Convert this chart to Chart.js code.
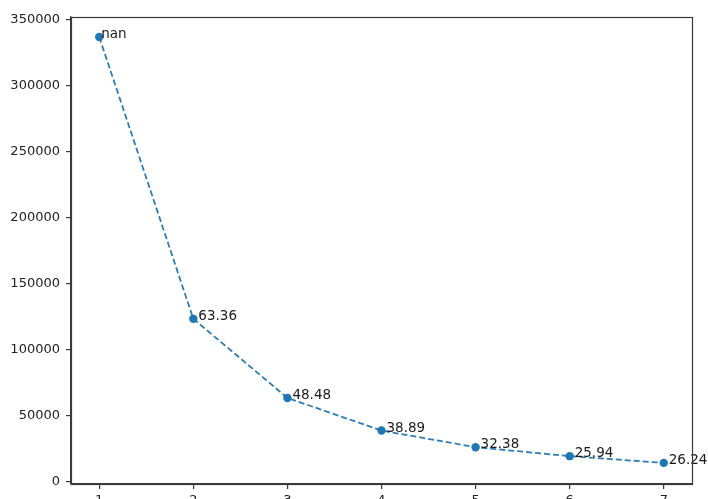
<!DOCTYPE html>
<html>
<head>
<meta charset="utf-8">
<script src="https://cdn.jsdelivr.net/npm/chart.js@4/dist/chart.umd.min.js"></script>
<style>
html,body{margin:0;padding:0;background:#fff;}
#wrap{width:708px;height:499px;position:relative;}
</style>
</head>
<body>
<div id="wrap"><canvas id="c"></canvas></div>
<script>
const xValues = [1, 2, 3, 4, 5, 6, 7];
const yValues = [337000, 123500, 63600, 38900, 26300, 19500, 14400];
const pointLabels = ['nan', '63.36', '48.48', '38.89', '32.38', '25.94', '26.24'];
const xTicks = [1, 2, 3, 4, 5, 6, 7];
const yTicks = [0, 50000, 100000, 150000, 200000, 250000, 300000, 350000];

const FONT = 'DejaVu Sans';
const AX = '#3a3a3a';

const labelPlugin = {
  id: 'pointText',
  afterDatasetsDraw(chart) {
    const ctx = chart.ctx;
    const meta = chart.getDatasetMeta(0);
    ctx.save();
    ctx.font = '13.5px "' + FONT + '"';
    ctx.fillStyle = '#1a1a1a';
    ctx.textAlign = 'left';
    ctx.textBaseline = 'alphabetic';
    meta.data.forEach((pt, i) => {
      const dx = i === 0 ? 2 : 5;
      ctx.fillText(pointLabels[i], pt.x + dx, pt.y + 1);
    });
    ctx.restore();
  }
};

const framePlugin = {
  id: 'frame',
  afterDraw(chart) {
    const a = chart.chartArea;
    const ctx = chart.ctx;
    ctx.save();
    ctx.strokeStyle = AX;
    ctx.lineWidth = 1.2;
    ctx.strokeRect(Math.round(a.left) + 0.5, Math.round(a.top) + 0.5, Math.round(a.right - a.left), Math.round(a.bottom - a.top));
    ctx.restore();
  }
};

new Chart(document.getElementById('c'), {
  type: 'line',
  data: {
    datasets: [{
      data: xValues.map((x, i) => ({x: x, y: yValues[i]})),
      borderColor: '#2f7cb3',
      backgroundColor: '#1f77b4',
      borderWidth: 1.8,
      borderDash: [6, 3],
      pointRadius: 4.2,
      pointBorderWidth: 0,
      pointBackgroundColor: '#1f77b4',
      tension: 0,
      fill: false
    }]
  },
  options: {
    responsive: true,
    maintainAspectRatio: false,
    animation: false,
    devicePixelRatio: 1,
    layout: {padding: {left: 0, right: 16, top: 17, bottom: 0}},
    plugins: {legend: {display: false}, tooltip: {enabled: false}},
    scales: {
      x: {
        type: 'linear',
        min: 0.7,
        max: 7.3,
        afterBuildTicks(scale) { scale.ticks = xTicks.map(v => ({value: v})); },
        afterFit(scale) { scale.height = 15; },
        grid: {drawOnChartArea: false, drawTicks: true, tickLength: 5, color: AX, lineWidth: 1.2},
        border: {display: true, color: AX, width: 1.2},
        ticks: {
          autoSkip: false, maxRotation: 0, padding: 4,
          color: '#222', font: {family: FONT, size: 13},
          callback: v => String(v)
        }
      },
      y: {
        type: 'linear',
        min: -1575,
        max: 352075,
        afterBuildTicks(scale) { scale.ticks = yTicks.map(v => ({value: v})); },
        afterFit(scale) { scale.width = 71; },
        grid: {drawOnChartArea: false, drawTicks: true, tickLength: 5, color: AX, lineWidth: 1.2},
        border: {display: true, color: AX, width: 1.2},
        ticks: {
          autoSkip: false, padding: 6,
          color: '#222', font: {family: FONT, size: 13},
          callback: v => String(v)
        }
      }
    }
  },
  plugins: [labelPlugin, framePlugin]
});
</script>
</body>
</html>
